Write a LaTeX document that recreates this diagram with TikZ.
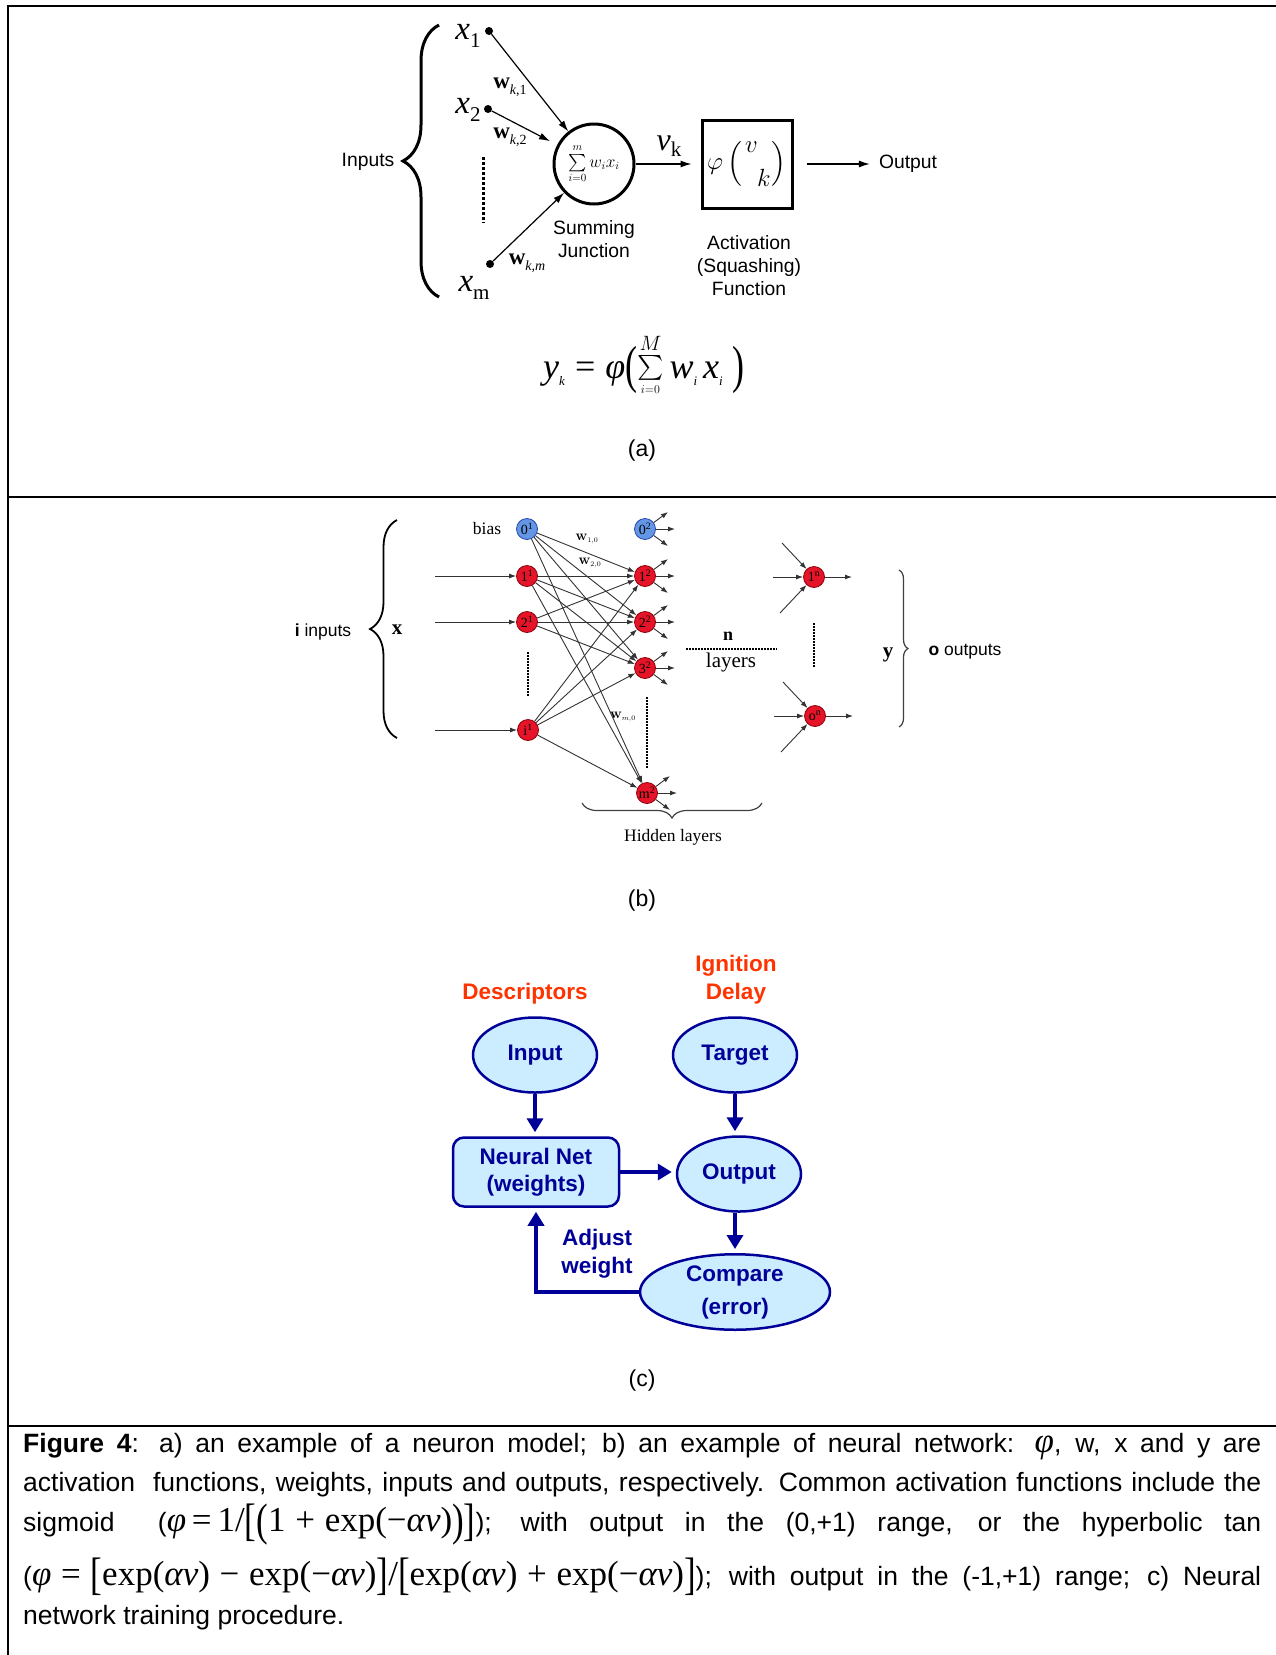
\documentclass[tikz,border=0pt]{standalone}
\usepackage{amsmath}
\usepackage{graphicx}
\usepackage[no-math]{fontspec}
\setmainfont{Liberation Sans}
\newfontfamily\tnr{Liberation Serif}
\usetikzlibrary{arrows.meta,decorations.pathreplacing,shapes.geometric}
\definecolor{navy}{RGB}{0,0,153}
\definecolor{lblue}{RGB}{204,236,255}
\definecolor{orred}{RGB}{255,51,0}
\definecolor{nred}{RGB}{230,20,40}
\definecolor{nredd}{RGB}{140,0,10}
\definecolor{nblue}{RGB}{100,150,230}
\definecolor{nblued}{RGB}{40,70,170}
\newcommand\tm[1]{\mbox{\tnr\fontsize{35}{39.5}\selectfont #1}}
\newcommand\bigbr[1]{\raisebox{-0.13em}{\scalebox{1}[1.3]{#1}}}
\newcommand\fsz[1]{\fontsize{#1}{#1}\selectfont}
\newcommand\xsub[1]{{\tnr\fsz{33}\textit{x}\raisebox{-8pt}{\fsz{21}#1}}}
\newcommand\wsub[1]{{\tnr\fsz{23}\textbf{w}\raisebox{-6pt}{\fsz{14}#1}}}
\newcommand\isub[2]{\textit{#1}\raisebox{-7pt}{\fsz{13}\textit{#2}}}
\begin{document}
\begin{tikzpicture}[x=1pt,y=-1pt,
  sanslab/.style={inner sep=0, font=\fontsize{19.3}{23}\selectfont},
  panlab/.style={inner sep=0, font=\fontsize{23}{23}\selectfont},
  thinarrow/.style={line width=1.2pt, -{Latex[length=11pt,width=7pt]}},
  dotv/.style={line width=3pt, dash pattern=on 2.5pt off 2.5pt},
  dotb/.style={line width=1.6pt, dash pattern=on 1.5pt off 1.5pt},
  indot/.style={circle, fill=black, inner sep=0, minimum size=8},
  rnode/.style={circle, fill=nred, draw=nredd, line width=0.8pt, minimum size=21, inner sep=0, font=\tnr\fsz{14}},
  bnode/.style={rnode, fill=nblue, draw=nblued},
  netarrow/.style={line width=0.9pt, draw=black!80, -{Latex[length=7pt,width=5pt]}},
  serlab/.style={inner sep=0, font=\tnr\fontsize{17.5}{20}\selectfont},
  ell/.style={ellipse, draw=navy, fill=lblue, line width=2.5pt, inner sep=0, text=navy, align=center, font=\bfseries\fontsize{22.5}{33}\selectfont},
  navylab/.style={inner sep=0, text=navy, align=center, font=\bfseries\fontsize{22.5}{28}\selectfont},
  orlab/.style={inner sep=0, text=orred, align=center, font=\bfseries\fontsize{22.5}{28}\selectfont},
  bluearrow/.style={line width=3.5pt, draw=navy, -{Triangle[length=14pt,width=16pt]}, shorten >=4pt}
]
\useasboundingbox (0,0) rectangle (1275,1655);
\fill[white] (0,0) rectangle (1275,1655);
% frame
\draw[line width=2.5pt] (8,1665) -- (8,6) -- (1285,6);
\draw[line width=2.5pt] (8,497) -- (1285,497);
\draw[line width=2.5pt] (8,1426) -- (1285,1426);

% ---------------- panel (a)
\draw[line width=3pt, decorate, decoration={brace, amplitude=36pt}] (439,297) -- (439,25);
\node[sanslab] (inputs) at (368,162) {Inputs};
\node[indot] (d1) at (489,31) {};
\node[indot] (d2) at (488,109) {};
\node[indot] (dm) at (490,264) {};
\node[inner sep=0] (x1) at (468,36) {\xsub{1}};
\node[inner sep=0] (x2) at (468,110) {\xsub{2}};
\node[inner sep=0] (xm) at (474,288) {\xsub{m}};
\draw[dotv] (483,157) -- (483,223);
\node[circle, draw, line width=3pt, minimum size=80, inner sep=0] (sum) at (594,164) {\fsz{16}$\sum\limits_{i=0}^{m}w_{i}x_{i}$};
\draw[thinarrow] (d1) -- (sum);
\draw[thinarrow, shorten >=8pt] (d2) -- (sum);
\draw[thinarrow] (dm) -- (sum);
\node[inner sep=0] (w1) at (510,87) {\wsub{\textit{k},1}};
\node[inner sep=0] (w2) at (510,137) {\wsub{\textit{k},2}};
\node[inner sep=0] (wm) at (527,263) {\wsub{\textit{k,m}}};
\node[draw, line width=3pt, minimum width=90, minimum height=88, inner sep=0] (act) at (747,164) {\fsz{28}$\varphi\left(\genfrac{}{}{0pt}{0}{v\;\,}{\;\;k}\right)$};
\draw[thinarrow, shorten >=9pt] (sum) -- (act);
\node[inner sep=0] (vk) at (669,146) {{\tnr\fsz{32}\textit{v}\raisebox{-6pt}{\fsz{21}k}}};
\node[sanslab] (out) at (908,164) {Output};
\draw[thinarrow] ([xshift=13pt]act.east) -- ([xshift=-9pt]out.west);
\node[sanslab, align=center] (sj) at (594,239) {Summing\\Junction};
\node[sanslab, align=center] (asf) at (749,266) {Activation\\(Squashing)\\Function};
\node[inner sep=0] (eq) at (644,366) {\tnr\fsz{36}\isub{y}{k}\;=\;\textit{φ}\raisebox{-0.12em}{\scalebox{1}[1.45]{(}}\raisebox{0.12em}{\fsz{28}$\sum\limits_{\raisebox{2pt}{\fsz{13}$i{=}0$}}^{\fsz{13}M}$}\,\isub{w}{i}\,\isub{x}{i}\;\raisebox{-0.12em}{\scalebox{1}[1.45]{)}}};
\node[panlab] (la) at (642,451) {(a)};

% ---------------- panel (b)
\draw[line width=1.8pt, decorate, decoration={brace, amplitude=27pt}] (397,738) -- (397,520);
\node[inner sep=0, font=\fontsize{17.5}{20}\selectfont] (iin) at (323,632) {\textbf{i} inputs};
\node[inner sep=0, font=\tnr\bfseries\fsz{21}] (xx) at (397,630) {x};
\node[serlab] (bias) at (487,529) {bias};
\node[bnode] (n01) at (527,529) {0\textsuperscript{1}};
\node[rnode] (n11) at (527,576) {1\textsuperscript{1}};
\node[rnode] (n21) at (527,622) {2\textsuperscript{1}};
\node[rnode] (ni1) at (528,730) {i\textsuperscript{1}};
\node[bnode] (n02) at (645,529) {0\textsuperscript{2}};
\node[rnode] (n12) at (645,576) {1\textsuperscript{2}};
\node[rnode] (n22) at (645,622) {2\textsuperscript{2}};
\node[rnode] (n32) at (645,668) {3\textsuperscript{2}};
\node[rnode] (nm2) at (647,793) {m\textsuperscript{2}};
\node[rnode] (n1n) at (814,577) {1\textsuperscript{n}};
\node[rnode] (non) at (815,716) {o\textsuperscript{n}};
\coordinate (in1) at (435,576);
\coordinate (in2) at (435,622);
\coordinate (ini) at (435,730);
\draw[netarrow] (in1) -- (n11);
\draw[netarrow] (in2) -- (n21);
\draw[netarrow] (ini) -- (ni1);
\foreach \s/\t in {n01/n12,n01/n22,n01/n32,n01/nm2,n11/n12,n11/n22,n11/n32,n11/nm2,n21/n12,n21/n22,n21/n32,ni1/n12,ni1/n22,ni1/n32,ni1/nm2}
  \draw[netarrow] (\s) -- (\t);
\foreach \n in {n02,n12,n22,n32,nm2}{
  \draw[netarrow] (\n) -- ++(23,-17);
  \draw[netarrow] (\n) -- ++(30,0);
  \draw[netarrow] (\n) -- ++(23,17);
}
\foreach \n in {n1n,non}{
  \draw[netarrow] ([shift={(-32,-34)}]\n.center) -- (\n);
  \draw[netarrow] ([shift={(-41,0)}]\n.center) -- (\n);
  \draw[netarrow] ([shift={(-34,36)}]\n.center) -- (\n);
  \draw[netarrow] (\n) -- ++(38,0);
}
\draw[dotb] (528,652) -- (528,697);
\draw[dotb] (647,697) -- (647,768);
\draw[dotb] (814,623) -- (814,668);
\draw[dotb] (686,649) -- (777,649);
\node[inner sep=0] (w10) at (587,539) {\fsz{15}$\mathbf{w}_{\scriptscriptstyle 1,0}$};
\node[inner sep=0] (w20) at (590,563) {\fsz{15}$\mathbf{w}_{\scriptscriptstyle 2,0}$};
\node[inner sep=0] (wm0) at (623,717) {\fsz{15}$\mathbf{w}_{\scriptscriptstyle m,0}$};
\node[inner sep=0, font=\tnr\bfseries\fsz{18}] (nn) at (728,636) {n};
\node[inner sep=0, font=\tnr\fsz{21}] (lay) at (731,662) {layers};
\node[inner sep=0, font=\tnr\bfseries\fsz{21}] (yy) at (888,655) {y};
\draw[line width=1.2pt, draw=black!75, decorate, decoration={brace, amplitude=9pt}] (899,570) -- (899,727);
\node[inner sep=0, font=\fontsize{17.5}{20}\selectfont] (oout) at (965,652) {\textbf{o} outputs};
\draw[line width=1.2pt, draw=black!75, decorate, decoration={brace, amplitude=15pt}] (762,803) -- (582,803);
\node[serlab] (hid) at (673,837) {Hidden layers};
\node[panlab] (lb) at (642,901) {(b)};

% ---------------- panel (c)
\node[orlab] (desc) at (525,994) {Descriptors};
\node[orlab] (ign) at (736,980) {Ignition\\Delay};
\node[ell, minimum width=124, minimum height=75] (inp) at (535,1055) {Input};
\node[ell, minimum width=124, minimum height=75] (tgt) at (735,1055) {Target};
\node[draw=navy, fill=lblue, line width=2.5pt, rounded corners=11pt, minimum width=166, minimum height=69, inner sep=0, text=navy, align=center, font=\bfseries\fontsize{22.5}{27}\selectfont] (net) at (536,1172) {Neural Net\\(weights)};
\node[ell, minimum width=124, minimum height=75] (outp) at (739,1174) {Output};
\node[ell, minimum width=190, minimum height=75] (cmp) at (735,1292) {Compare\\(error)};
\draw[bluearrow] (inp.south) -- (inp.south |- net.north);
\draw[bluearrow] (tgt.south) -- (tgt.south |- outp.north);
\draw[bluearrow] (net.east) -- (net.east -| outp.west);
\draw[bluearrow] (outp.south -| cmp.north) -- (cmp.north);
\draw[bluearrow] (cmp.west) -| (net.south);
\node[navylab] (adj) at (597,1254) {Adjust\\weight};
\node[panlab] (lc) at (642,1381) {(c)};

% ---------------- caption
\node[anchor=base west, text width=1238pt, align=justify, inner sep=0, font=\fontsize{26.5}{39.5}\selectfont] (cap) at (23,1452) {\hyphenpenalty=10000\exhyphenpenalty=10000\noindent
\textbf{Figure 4}: a) an example of a neuron model; b) an example of neural network: \tm{\textit{φ}}, w, x and y are\linebreak
activation\ \ functions, weights, inputs and outputs, respectively. Common activation functions include the\linebreak
sigmoid\ \ (\tm{\textit{φ}\,=\,1/\bigbr{[}\bigbr{(}1\;+\;exp(−\textit{αv})\bigbr{)}\bigbr{]}}); with output in the (0,+1) range, or the hyperbolic tan\vadjust{\vskip 12pt}\linebreak
(\tm{\textit{φ}\;=\;\bigbr{[}exp(\textit{αv})\;−\;exp(−\textit{αv})\bigbr{]}/\bigbr{[}exp(\textit{αv})\;+\;exp(−\textit{αv})\bigbr{]}}); with output in the (-1,+1) range; c) Neural\linebreak
network training procedure.};
\end{tikzpicture}
\end{document}
